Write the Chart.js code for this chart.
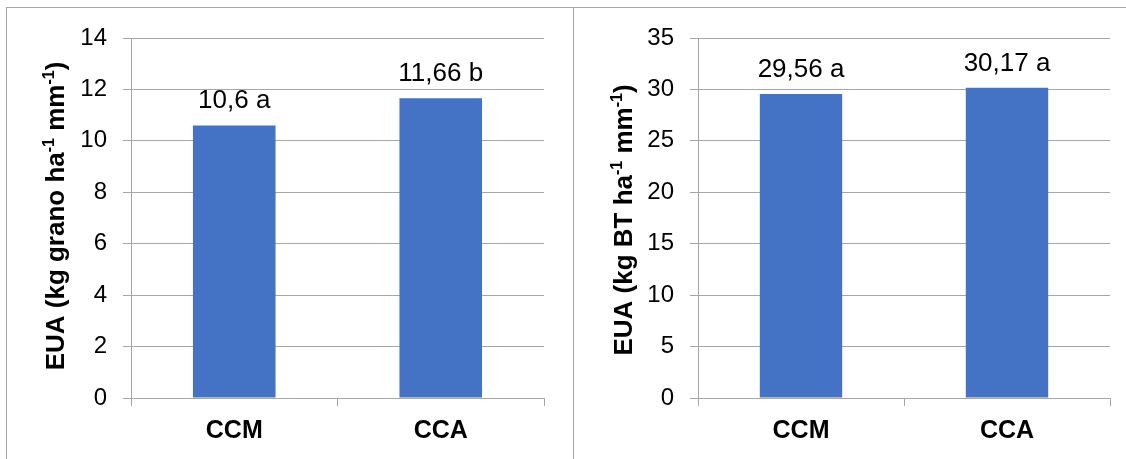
<!DOCTYPE html>
<html>
<head>
<meta charset="utf-8">
<script src="https://cdn.jsdelivr.net/npm/chart.js@4.4.1/dist/chart.umd.min.js"></script>
<style>
  html, body { margin: 0; padding: 0; background: #fff; }
  body { width: 1126px; height: 459px; position: relative; overflow: hidden; }
  .frame { position: absolute; left: 6px; top: 7px; width: 1130px; height: 460px;
           border-top: 1px solid #a6a6a6; border-left: 1px solid #a6a6a6; }
  .divider { position: absolute; left: 573px; top: 7px; width: 1px; height: 460px; background: #a6a6a6; }
  canvas { position: absolute; top: 0; }
</style>
</head>
<body>
<div class="frame"></div>
<div class="divider"></div>
<canvas id="grain" width="573" height="459" style="left:0"></canvas>
<canvas id="biomass" width="553" height="459" style="left:573px"></canvas>
<script>
const categories = ['CCM', 'CCA']
const grainValues = [10.6, 11.66]
const grainLetters = ['a', 'b']
const biomassValues = [29.56, 30.17]
const biomassLetters = ['a', 'a']

const barColor = '#4472c4'
const gridColor = '#a6a6a6'
const fontFamily = "'Liberation Sans', Arial, sans-serif"

Chart.defaults.font.family = fontFamily
Chart.defaults.color = '#000'

// value labels above the bars, like "10,6 a"
const valueLabels = {
  id: 'valueLabels',
  afterDatasetsDraw(chart, args, opts) {
    let ctx = chart.ctx
    let meta = chart.getDatasetMeta(0)
    ctx.save()
    ctx.font = '26px ' + fontFamily
    ctx.fillStyle = '#000'
    ctx.textAlign = 'center'
    ctx.textBaseline = 'alphabetic'
    meta.data.forEach((bar, i) => {
      let v = chart.data.datasets[0].data[i]
      let txt = String(v).replace('.', ',') + ' ' + opts.letters[i]
      ctx.fillText(txt, bar.x, bar.y - 17)
    })
    ctx.restore()
  }
}

// rotated y axis title with superscripts
const axisTitle = {
  id: 'axisTitle',
  afterDraw(chart, args, opts) {
    let ctx = chart.ctx
    let big = 'bold 26px ' + fontFamily
    let small = 'bold 16px ' + fontFamily
    ctx.save()
    let total = 0
    opts.parts.forEach(p => {
      ctx.font = p.sup ? small : big
      total += ctx.measureText(p.text).width
    })
    ctx.translate(opts.x, opts.y)
    ctx.rotate(-Math.PI / 2)
    ctx.fillStyle = '#000'
    ctx.textBaseline = 'alphabetic'
    ctx.textAlign = 'left'
    let x = -total / 2
    opts.parts.forEach(p => {
      ctx.font = p.sup ? small : big
      ctx.fillText(p.text, x, p.sup ? -10 : 0)
      x += ctx.measureText(p.text).width
    })
    ctx.restore()
  }
}

function makeChart(id, values, letters, max, step, axisWidth, padRight, titleParts, titleX, titleY) {
  return new Chart(document.getElementById(id), {
    type: 'bar',
    data: {
      labels: categories,
      datasets: [{
        data: values,
        backgroundColor: barColor,
        borderWidth: 0,
        barPercentage: 0.4,
        categoryPercentage: 1
      }]
    },
    options: {
      responsive: false,
      animation: false,
      layout: { padding: { left: 0, right: padRight, top: 38, bottom: 0 } },
      plugins: {
        legend: { display: false },
        tooltip: { enabled: false },
        valueLabels: { letters: letters },
        axisTitle: { parts: titleParts, x: titleX, y: titleY }
      },
      scales: {
        x: {
          grid: { offset: true, drawOnChartArea: false, color: gridColor, tickLength: 8 },
          border: { color: gridColor },
          ticks: { font: { size: 25, weight: 'bold' }, padding: 10, color: '#000' },
          afterFit: s => { s.height = 61 }
        },
        y: {
          min: 0,
          max: max,
          ticks: { stepSize: step, font: { size: 24 }, padding: 16, color: '#000' },
          grid: { color: gridColor, tickLength: 8 },
          border: { color: gridColor },
          afterFit: s => { s.width = axisWidth }
        }
      }
    },
    plugins: [valueLabels, axisTitle]
  })
}

makeChart('grain', grainValues, grainLetters, 14, 2, 131, 29,
  [{ text: 'EUA (kg grano ha' }, { text: '-1', sup: true }, { text: ' mm' }, { text: '-1', sup: true }, { text: ')' }],
  64, 216)

makeChart('biomass', biomassValues, biomassLetters, 35, 5, 125, 16,
  [{ text: 'EUA (kg BT ha' }, { text: '-1', sup: true }, { text: ' mm' }, { text: '-1', sup: true }, { text: ')' }],
  59, 220)
</script>
</body>
</html>
